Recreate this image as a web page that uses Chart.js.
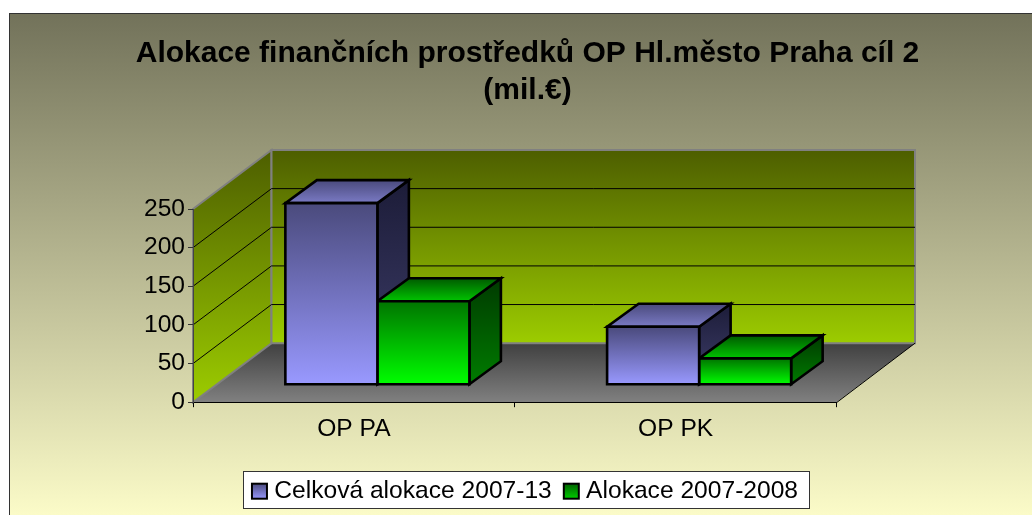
<!DOCTYPE html>
<html>
<head>
<meta charset="utf-8">
<style>
  html, body { margin: 0; padding: 0; background: #fff; }
  #wrap { width: 1032px; height: 515px; }
</style>
<script src="https://cdn.jsdelivr.net/npm/chart.js@4/dist/chart.umd.min.js"></script>
</head>
<body>
<div id="wrap"><canvas id="myChart" width="1032" height="515"></canvas></div>
<script>
const categories = ["OP PA", "OP PK"];
const celkova = [235, 75];
const alokace = [108, 34];
const seriesNames = ["Celková alokace 2007-13", "Alokace 2007-2008"];
const titleLines = ["Alokace finančních prostředků OP Hl.město Praha cíl 2", "(mil.€)"];

const FONT = "'Liberation Sans', Arial, sans-serif";
const LABEL_SIZE = 24.6;
const OUTLINE = 2.6;
// 3d look: wall depth, where the bars stand in it, and how deep they are
const WALL = { dx: 78.5, dy: -59 };
const BAR_SHIFT = { dx: 23.5, dy: -17.5 };
const BAR_DEPTH = { dx: 31.5, dy: -23 };

const palette = [
    { front: ['#4a4a7c', '#9999ff'], side: ['#1c1c38', '#3f3f6c'], top: ['#4a4a7c', '#7a7ac4'], legend: ['#4a4a7c', '#9999ff'] },
    { front: ['#007400', '#00ff00'], side: ['#003a00', '#007c00'], top: ['#005a00', '#00c400'], legend: ['#006000', '#00d000'] }
];

function vGrad(ctx, y0, y1, colors) {
    const g = ctx.createLinearGradient(0, y0, 0, y1);
    g.addColorStop(0, colors[0]);
    g.addColorStop(1, colors[1]);
    return g;
}

function poly(ctx, pts, fill, stroke, lw) {
    ctx.beginPath();
    pts.forEach((p, i) => i ? ctx.lineTo(p[0], p[1]) : ctx.moveTo(p[0], p[1]));
    ctx.closePath();
    if (fill) { ctx.fillStyle = fill; ctx.fill(); }
    if (stroke) { ctx.strokeStyle = stroke; ctx.lineWidth = lw; ctx.lineJoin = 'miter'; ctx.stroke(); }
}

const scene3d = {
    id: 'scene3d',
    // the legend sits a bit left of the title centre
    afterUpdate(chart) {
        chart.legend.left -= 2.5;
        chart.legend.right -= 2.5;
        chart.legend.legendHitBoxes.forEach(h => { h.left -= 2.5; });
    },
    beforeDraw(chart) {
        const { ctx, chartArea: { top, bottom, left, right }, scales: { y } } = chart;
        ctx.save();
        // chart background
        ctx.fillStyle = vGrad(ctx, 13, 515, ['#72725a', '#fbfbc8']);
        ctx.fillRect(9, 13, 1023, 502);
        ctx.strokeStyle = '#333';
        ctx.lineWidth = 1;
        ctx.strokeRect(9.5, 13.5, 1030, 510);

        const d = WALL;
        const wallFill = vGrad(ctx, top + d.dy, bottom + d.dy, ['#4d5e00', '#9ccc00']);
        const sideFill = vGrad(ctx, top + d.dy, bottom, ['#4d5e00', '#9ccc00']);
        // floor
        poly(ctx, [[left, bottom], [right, bottom], [right + d.dx, bottom + d.dy], [left + d.dx, bottom + d.dy]],
            vGrad(ctx, bottom + d.dy, bottom, ['#404040', '#808080']));
        // left wall and back wall
        poly(ctx, [[left, top], [left + d.dx, top + d.dy], [left + d.dx, bottom + d.dy], [left, bottom]], sideFill, '#808080', 2);
        poly(ctx, [[left + d.dx, top + d.dy], [right + d.dx, top + d.dy], [right + d.dx, bottom + d.dy], [left + d.dx, bottom + d.dy]], wallFill, '#808080', 2);
        // grid lines run along both walls
        ctx.strokeStyle = '#000';
        ctx.lineWidth = 1;
        y.ticks.forEach(t => {
            if (t.value === y.min || t.value === y.max) return;
            const py = y.getPixelForValue(t.value);
            ctx.beginPath();
            ctx.moveTo(left, py);
            ctx.lineTo(left + d.dx, py + d.dy);
            ctx.lineTo(right + d.dx, py + d.dy);
            ctx.stroke();
        });
        // floor edge on the right
        ctx.beginPath();
        ctx.moveTo(right, bottom + 0.5);
        ctx.lineTo(right + d.dx, bottom + d.dy);
        ctx.stroke();

        // legend frame
        const hit = chart.legend.legendHitBoxes;
        const lx = hit[0].left - 9;
        const rx = hit[hit.length - 1].left + hit[hit.length - 1].width + 11;
        ctx.fillStyle = '#fff';
        ctx.fillRect(lx, 471, rx - lx, 38);
        ctx.strokeStyle = '#333';
        ctx.strokeRect(Math.round(lx) + 0.5, 471.5, Math.round(rx - lx), 37);
        ctx.restore();
    },
    // sides and tops go down first: the green top and front sit over the blue side
    beforeDatasetsDraw(chart) {
        const { ctx } = chart;
        const d = BAR_DEPTH;
        ctx.save();
        ctx.translate(BAR_SHIFT.dx, BAR_SHIFT.dy);
        chart.data.datasets.forEach((ds, i) => {
            const colors = palette[i];
            chart.getDatasetMeta(i).data.forEach(bar => {
                const l = bar.x - bar.width / 2, r = bar.x + bar.width / 2;
                const t = bar.y, b = bar.base;
                poly(ctx, [[r, t], [r + d.dx, t + d.dy], [r + d.dx, b + d.dy], [r, b]],
                    vGrad(ctx, t + d.dy, b, colors.side), '#000', OUTLINE);
                poly(ctx, [[l, t], [r, t], [r + d.dx, t + d.dy], [l + d.dx, t + d.dy]],
                    vGrad(ctx, t + d.dy, t, colors.top), '#000', OUTLINE);
            });
        });
        ctx.restore();
    },
    // bars stand inside the floor, so the fronts are shifted back too
    beforeDatasetDraw(chart) {
        chart.ctx.save();
        chart.ctx.translate(BAR_SHIFT.dx, BAR_SHIFT.dy);
    },
    afterDatasetDraw(chart, args) {
        const { ctx } = chart;
        // outline centred on the bar edge, so neighbours share one line
        args.meta.data.forEach(bar => {
            const l = bar.x - bar.width / 2, r = bar.x + bar.width / 2;
            poly(ctx, [[l, bar.y], [r, bar.y], [r, bar.base], [l, bar.base]], null, '#000', OUTLINE);
        });
        ctx.restore();
    },
    afterDraw(chart) {
        // legend keys are wider than the text offset that the legend allows
        const { ctx } = chart;
        chart.legend.legendHitBoxes.forEach((h, i) => {
            const mid = h.top + h.height / 2;
            ctx.save();
            ctx.fillStyle = vGrad(ctx, mid - 8, mid + 8, palette[i].legend);
            ctx.fillRect(h.left, mid - 7.5, 15, 15);
            ctx.strokeStyle = '#000';
            ctx.lineWidth = 2;
            ctx.strokeRect(h.left, mid - 7.5, 15, 15);
            ctx.restore();
        });
    }
};

function barFront(i) {
    return c => {
        const y = c.chart.scales.y;
        if (!c.parsed) return palette[i].front[1];
        return vGrad(c.chart.ctx, y.getPixelForValue(c.parsed.y), y.getPixelForValue(0), palette[i].front);
    };
}

let chart = new Chart(document.getElementById("myChart"), {
    type: 'bar',
    data: {
        labels: categories,
        datasets: [{
            label: seriesNames[0],
            data: celkova,
            clip: false,
            backgroundColor: barFront(0),
            borderWidth: 0
        }, {
            label: seriesNames[1],
            data: alokace,
            clip: false,
            backgroundColor: barFront(1),
            borderWidth: 0
        }]
    },
    plugins: [scene3d],
    options: {
        responsive: false,
        animation: false,
        layout: { padding: { left: 23, right: 0, top: 0, bottom: 1.5 } },
        datasets: { bar: { categoryPercentage: 0.572, barPercentage: 1 } },
        scales: {
            x: {
                afterFit(s) { s.height = 64.7; },
                grid: { drawOnChartArea: false, tickLength: 5, tickColor: '#000' },
                border: { color: '#000', width: 1 },
                ticks: { color: '#000', padding: 7, font: { family: FONT, size: LABEL_SIZE } }
            },
            y: {
                min: 0,
                max: 250,
                afterFit(s) { s.width = 170; },
                grid: { drawOnChartArea: false, tickLength: 5, tickColor: '#333' },
                border: { color: '#444', width: 1 },
                ticks: { stepSize: 50, color: '#000', padding: 3, font: { family: FONT, size: LABEL_SIZE } }
            },
            // empty axis only keeps the plot clear of the right side
            spacer: {
                position: 'right',
                afterFit(s) { s.width = 195.5; },
                grid: { display: false },
                border: { display: false },
                ticks: { display: false }
            }
        },
        plugins: {
            title: {
                display: true,
                text: titleLines,
                color: '#000',
                font: { family: FONT, size: 30, weight: 'bold', lineHeight: 36.5 / 30 },
                padding: { top: 35.75, bottom: 100.25 }
            },
            legend: {
                position: 'bottom',
                labels: {
                    color: '#000',
                    boxWidth: 10,
                    boxHeight: 12,
                    padding: 12,
                    font: { family: FONT, size: LABEL_SIZE },
                    generateLabels: c => c.data.datasets.map((ds, i) => ({
                        text: ds.label,
                        fontColor: '#000',
                        fillStyle: 'rgba(0,0,0,0)',
                        strokeStyle: 'rgba(0,0,0,0)',
                        lineWidth: 0,
                        datasetIndex: i
                    }))
                }
            },
            tooltip: { enabled: false }
        }
    }
});
</script>
</body>
</html>
